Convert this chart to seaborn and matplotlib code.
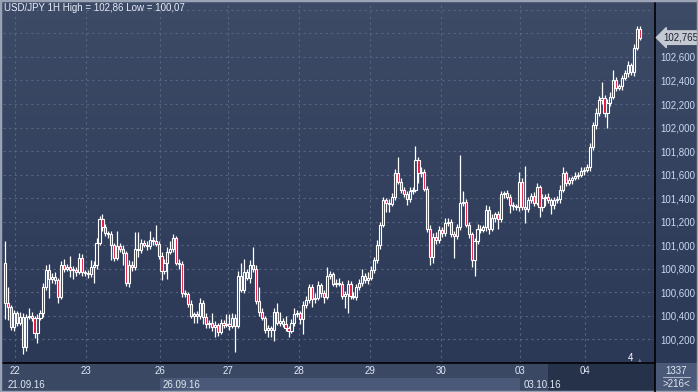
import numpy as np
import matplotlib
matplotlib.use("Agg")
import matplotlib.pyplot as plt
from matplotlib.colors import LinearSegmentedColormap
from matplotlib.patches import Rectangle
import seaborn as sns

# hourly closes, USD/JPY 21.09.16 - 04.10.16
close = [
    100.51, 100.47, 100.30, 100.42, 100.34, 100.39, 100.13, 100.39, 100.40, 100.38, 100.25, 100.38,
    100.42, 100.64, 100.79, 100.71, 100.73, 100.70, 100.56, 100.83, 100.80, 100.81, 100.79, 100.79,
    100.77, 100.89, 100.77, 100.76, 100.75, 100.81, 100.83, 101.02, 101.22, 101.15, 101.10, 101.09,
    101.00, 100.89, 100.99, 100.97, 100.93, 100.68, 100.83, 100.81, 100.97, 100.96, 101.02, 101.00,
    100.99, 101.04, 101.03, 101.01, 100.91, 100.78, 100.85, 100.94, 100.97, 101.06, 100.85, 100.84,
    100.59, 100.58, 100.50, 100.40, 100.41, 100.40, 100.51, 100.39, 100.33, 100.34, 100.30, 100.32,
    100.26, 100.34, 100.32, 100.33, 100.31, 100.38, 100.31, 100.74, 100.62, 100.77, 100.72, 100.83,
    100.80, 100.52, 100.43, 100.38, 100.28, 100.29, 100.28, 100.43, 100.34, 100.35, 100.33, 100.29,
    100.27, 100.34, 100.41, 100.42, 100.37, 100.49, 100.53, 100.64, 100.54, 100.55, 100.66, 100.59,
    100.56, 100.74, 100.75, 100.67, 100.68, 100.67, 100.57, 100.58, 100.67, 100.57, 100.56, 100.64,
    100.68, 100.74, 100.70, 100.72, 100.79, 100.87, 101.00, 101.17, 101.38, 101.36, 101.35, 101.41,
    101.61, 101.54, 101.47, 101.43, 101.39, 101.46, 101.47, 101.72, 101.61, 101.62, 101.48, 101.14,
    100.90, 101.07, 101.04, 101.13, 101.10, 101.19, 101.20, 101.09, 101.08, 101.15, 101.36, 101.37,
    101.17, 101.09, 100.87, 101.03, 101.14, 101.13, 101.15, 101.30, 101.14, 101.23, 101.26, 101.22,
    101.43, 101.44, 101.41, 101.34, 101.33, 101.32, 101.54, 101.32, 101.31, 101.38, 101.42, 101.36,
    101.49, 101.32, 101.40, 101.41, 101.38, 101.34, 101.38, 101.39, 101.47, 101.61, 101.53, 101.55,
    101.57, 101.59, 101.60, 101.63, 101.64, 101.66, 101.83, 102.02, 102.12, 102.23, 102.25, 102.12,
    102.21, 102.26, 102.40, 102.34, 102.35, 102.42, 102.46, 102.53, 102.47, 102.68, 102.84, 102.765,
]
first_open = 100.85

# wick lengths above / below the body, in pips
upper_pips = [
    18, 13, 2, 3, 2, 4, 3, 2, 6, 3, 2, 3,
    3, 4, 4, 5, 3, 4, 2, 3, 5, 3, 10, 3,
    2, 4, 3, 2, 3, 6, 3, 4, 3, 4, 3, 2,
    3, 2, 13, 3, 3, 2, 4, 3, 14, 14, 3, 2,
    3, 8, 3, 14, 2, 3, 3, 4, 6, 3, 2, 3,
    2, 3, 2, 3, 2, 3, 4, 2, 3, 2, 8, 3,
    2, 3, 2, 8, 8, 4, 3, 4, 11, 11, 3, 4,
    15, 3, 12, 3, 2, 3, 2, 3, 8, 8, 3, 7,
    2, 3, 5, 3, 2, 3, 4, 3, 3, 4, 3, 2,
    3, 7, 3, 2, 3, 4, 2, 3, 3, 2, 3, 3,
    3, 6, 2, 5, 3, 3, 4, 3, 3, 2, 3, 3,
    4, 14, 3, 2, 3, 3, 2, 12, 3, 4, 3, 2,
    3, 3, 4, 3, 2, 4, 3, 2, 3, 3, 41, 9,
    2, 3, 2, 3, 4, 3, 2, 4, 3, 3, 2, 3,
    3, 2, 3, 2, 3, 2, 8, 3, 35, 3, 2, 3,
    4, 2, 3, 2, 3, 2, 3, 3, 4, 5, 2, 3,
    2, 3, 2, 3, 2, 3, 4, 3, 5, 4, 14, 3,
    3, 4, 9, 3, 2, 3, 3, 4, 2, 3, 2, 2,
]
lower_pips = [
    14, 11, 2, 3, 3, 2, 6, 3, 2, 3, 4, 8,
    2, 3, 2, 16, 3, 3, 5, 2, 3, 2, 6, 8,
    3, 2, 3, 2, 3, 2, 13, 3, 2, 3, 2, 3,
    13, 3, 2, 3, 10, 3, 4, 3, 2, 6, 3, 2,
    3, 2, 3, 2, 3, 8, 3, 14, 2, 3, 2, 4,
    3, 2, 3, 2, 6, 6, 3, 6, 4, 4, 3, 8,
    3, 2, 3, 2, 3, 2, 22, 2, 2, 3, 2, 4,
    3, 2, 3, 2, 3, 6, 6, 10, 2, 3, 3, 2,
    5, 2, 3, 2, 4, 13, 3, 2, 7, 3, 2, 3,
    5, 2, 3, 2, 3, 2, 3, 11, 16, 3, 2, 3,
    2, 3, 2, 3, 2, 3, 2, 3, 2, 8, 7, 2,
    3, 2, 3, 2, 5, 2, 3, 2, 8, 3, 2, 3,
    7, 5, 3, 2, 3, 2, 3, 2, 19, 3, 2, 3,
    2, 3, 6, 13, 2, 3, 2, 3, 5, 2, 3, 8,
    2, 3, 2, 7, 3, 2, 3, 2, 12, 3, 2, 3,
    2, 8, 3, 7, 2, 8, 3, 2, 3, 2, 3, 2,
    3, 2, 3, 2, 3, 2, 3, 2, 3, 2, 3, 3,
    12, 3, 2, 3, 2, 3, 2, 3, 2, 3, 2, 2,
]

day_labels = ["22", "23", "26", "27", "28", "29", "30", "03", "04"]
day_start = [4, 28, 53, 76, 100, 124, 148, 175, 197]   # first bar of each day
week_labels = ["21.09.16", "26.09.16", "03.10.16"]
week_start = [0, 53, 175]
price_levels = [100.2, 100.4, 100.6, 100.8, 101.0, 101.2, 101.4, 101.6,
                101.8, 102.0, 102.2, 102.4, 102.6, 102.8, 103.0]
last_price = 102.765

sns.set_style("dark")
plt.rcParams["font.family"] = ["Liberation Sans", "DejaVu Sans"]

W, H = 698, 392
fig = plt.figure(figsize=(W / 100, H / 100), dpi=100)
fig.patch.set_facecolor("#3b4864")

bg_cmap = LinearSegmentedColormap.from_list("bg", ["#3e4b67", "#2b3856"])
grad = np.linspace(0, 1, 256).reshape(-1, 1)

# gradient behind plot and price scale
ax_bg = fig.add_axes([0, 29 / H, 1, 363 / H])
ax_bg.imshow(grad, cmap=bg_cmap, aspect="auto", extent=[0, 1, 0, 1])
ax_bg.set_axis_off()

ax = fig.add_axes([3 / W, 29 / H, 652 / W, 361 / H])
ax.set_facecolor("none")

o = np.array([first_open] + close[:-1])
c = np.array(close)
x = np.arange(len(c))
hi = np.maximum(o, c) + np.array(upper_pips) / 100
lo = np.minimum(o, c) - np.array(lower_pips) / 100
up = c >= o
body = np.maximum(np.abs(c - o), 0.004)

ax.vlines(x, lo, hi, color="white", lw=0.9, zorder=2)
ax.bar(x[up], body[up], bottom=np.minimum(o, c)[up], width=0.72,
       color="#34415e", edgecolor="white", linewidth=0.8, zorder=3)
ax.bar(x[~up], body[~up], bottom=np.minimum(o, c)[~up], width=0.72,
       color="#e0143c", edgecolor="white", linewidth=0.8, zorder=3)

xmin, xmax = -0.68, 220.1
ax.set_xlim(xmin, xmax)
ax.set_ylim(99.996, 103.068)

grid_x = [d - 0.5 for d in day_start]
ax.set_xticks(grid_x)
ax.tick_params(axis="x", labelbottom=False, length=0)
ax.yaxis.tick_right()
# labels near the current price sit under the price marker, so they stay blank
ax.set_yticks(price_levels,
              labels=[f"{v:.3f}".replace(".", ",") if v < 102.7 else "" for v in price_levels])
ax.tick_params(axis="y", length=0, pad=4, labelsize=7, labelcolor="#c9d8f0")
ax.grid(True, color="#57657f", linestyle=(0, (2, 3)), linewidth=0.8)
for s in ["left", "top"]:
    ax.spines[s].set_visible(False)
for s in ["right", "bottom"]:
    ax.spines[s].set_color("black")
    ax.spines[s].set_linewidth(1.2)

# current price marker
ax.text(1.013, last_price, f"{last_price:.3f}".replace(".", ","), transform=ax.get_yaxis_transform(),
        ha="left", va="center", fontsize=7, color="#1c2233", clip_on=False, zorder=6,
        bbox=dict(boxstyle="larrow,pad=0.18", fc="#c4c8d0", ec="#c4c8d0"))

title = (f"USD/JPY 1H High = {hi.max():.2f} Low = {lo.min():.2f}").replace(".", ",")
fig.text(4 / W, 1 - 8 / H, title, ha="left", va="center", fontsize=7, color="#e6ecf7")

# time scale strip
ax_b = fig.add_axes([3 / W, 0, 652 / W, 28 / H])
ax_b.set_xlim(xmin, xmax)
ax_b.set_ylim(0, 28)
ax_b.set_facecolor("#3b4864")
ax_b.set_axis_off()
bounds = [xmin] + [w - 0.5 for w in week_start[1:]] + [xmax]
for i, lab in enumerate(week_labels):
    shade = "#4a5977" if i % 2 == 1 else "#3b4864"
    ax_b.add_patch(Rectangle((bounds[i], 0), bounds[i + 1] - bounds[i], 14, color=shade, lw=0))
    ax_b.text(max(bounds[i], 0) + 1.0, 7, lab, ha="left", va="center", fontsize=7, color="#e0e8f5")
for gx, lab in zip(grid_x, day_labels):
    ax_b.text(gx, 21, lab, ha="center", va="center", fontsize=7, color="#e0e8f5")
ax_b.add_patch(Rectangle((183.9, 0), xmax - 183.9, 28, color="#1f2940", alpha=0.72, lw=0))

fig.text(630 / W, 1 - 358 / H, "4", ha="center", va="center", fontsize=7, color="white")
fig.text(640 / W, 1 - 360 / H, "\u25b2", ha="center", va="center", fontsize=4, color="#6a7690")

# bar counter box, bottom right
fig.add_artist(Rectangle((655 / W, 0), 43 / W, 29 / H, transform=fig.transFigure,
                         color="#4a5977", lw=0))
fig.add_artist(plt.Line2D([655 / W, 655 / W], [0, 29 / H], color="black", lw=1.2))
fig.text(676 / W, 1 - 371 / H, "1337", ha="center", va="center", fontsize=7, color="#e0e8f5")
fig.add_artist(plt.Line2D([663 / W, 690 / W], [1 - 377 / H, 1 - 377 / H], color="#aab4c8", lw=0.8))
fig.text(676 / W, 1 - 384 / H, f">{len(c)}<", ha="center", va="center", fontsize=7, color="#e0e8f5")

# window frame
fig.add_artist(Rectangle((0, 0), 1, 1, transform=fig.transFigure, fill=False,
                         ec="#9aa3b5", lw=2.5))

fig.savefig("out.png", dpi=100, facecolor=fig.get_facecolor())
